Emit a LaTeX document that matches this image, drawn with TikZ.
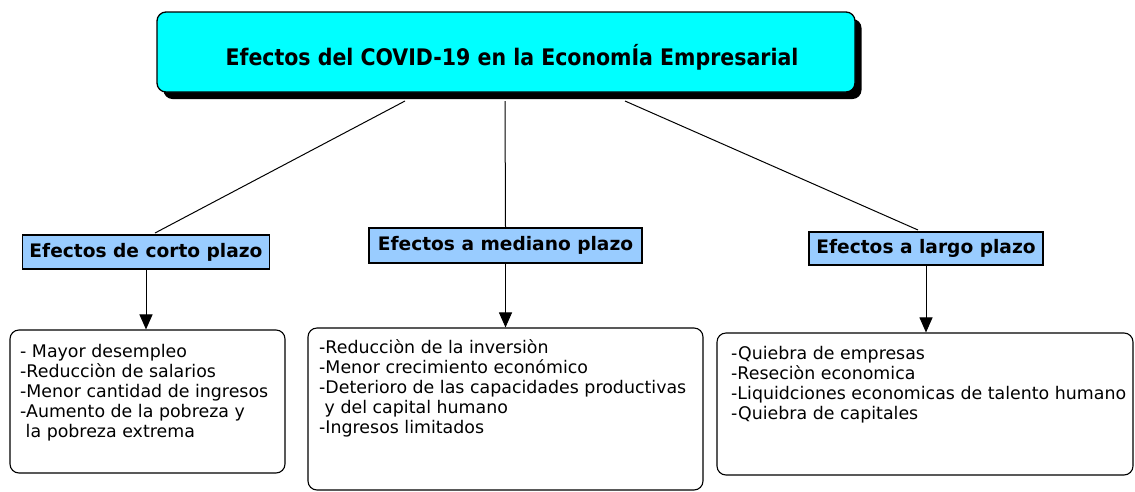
\documentclass[tikz,border=0pt]{standalone}
\usepackage{fontspec}
\setmainfont{DejaVu Sans}
\newfontfamily\condfont{DejaVu Sans Condensed}
\usetikzlibrary{arrows.meta,calc}
\definecolor{titlecyan}{RGB}{0,255,255}
\definecolor{subblue}{RGB}{153,204,255}
\tikzset{
  titlebox/.style={draw=black, line width=1.3pt, fill=titlecyan, rounded corners=9pt, minimum width=698pt, minimum height=80pt, inner sep=0pt},
  shadowbox/.style={fill=black, rounded corners=9pt, minimum width=698pt, minimum height=80pt, inner sep=0pt},
  titletext/.style={inner sep=0pt, font=\condfont\bfseries\fontsize{22.8}{26}\selectfont},
  subbox/.style={draw=black, line width=1.2pt, fill=subblue, inner sep=0pt, font=\bfseries\fontsize{18.6}{20}\selectfont},
  listbox/.style={draw=black, line width=1.1pt, rounded corners=9pt, inner sep=0pt},
  listtext/.style={inner sep=0pt, align=left, anchor=north west, font=\fontsize{17.4}{20}\selectfont},
  link/.style={draw=black, line width=1pt},
  arr/.style={draw=black, line width=1pt, -{Triangle[width=13pt,length=15pt]}}
}
\begin{document}
\begin{tikzpicture}[x=1pt,y=-1pt]
\useasboundingbox (0,0) rectangle (1135,491);
\clip (0,0) rectangle (1135,491);
% title
\node[shadowbox] (tshadow) at (512.5,59) {};
\node[titlebox] (title) at (506,52) {};
\node[titletext] (ttext) at (512,57) {Efectos del COVID-19 en la EconomÍa Empresarial};
% sub headings
\node[subbox, minimum width=247pt, minimum height=34pt] (a) at (146,252) {Efectos de corto plazo};
\node[subbox, minimum width=273pt, minimum height=35pt] (b) at (505.5,245.5) {Efectos a mediano plazo};
\node[subbox, minimum width=234pt, minimum height=33pt] (c) at (926,248.5) {Efectos a largo plazo};
% list boxes
\node[listbox, minimum width=275pt, minimum height=143pt] (A) at (147.5,401.5) {};
\node[listbox, minimum width=395pt, minimum height=162pt] (B) at (505.5,409) {};
\node[listbox, minimum width=416pt, minimum height=142pt] (C) at (925,404) {};
\node[listtext] (At) at (20,344) {- Mayor desempleo\\-Reducciòn de salarios\\-Menor cantidad de ingresos\\-Aumento de la pobreza y\\\ la pobreza extrema};
\node[listtext] (Bt) at (319,339) {-Reducciòn de la inversiòn\\-Menor crecimiento económico\\-Deterioro de las capacidades productivas\\\ y del capital humano\\-Ingresos limitados};
\node[listtext] (Ct) at (731,346) {-Quiebra de empresas\\-Reseciòn economica\\-Liquidciones economicas de talento humano\\-Quiebra de capitales};
% connectors
\coordinate (t1) at (405,101);
\coordinate (t2) at (505,101);
\coordinate (t3) at (625,101);
\coordinate (a1) at (155,233);
\coordinate (c1) at (918,230);
\draw[link] (t1) -- (a1);
\draw[link] (t2) -- (b.north);
\draw[link] (t3) -- (c1);
\draw[arr] (a.south) -- (a.south |- A.north);
\draw[arr] (b.south) -- (b.south |- B.north);
\draw[arr] (c.south) -- (c.south |- C.north);
\end{tikzpicture}
\end{document}
